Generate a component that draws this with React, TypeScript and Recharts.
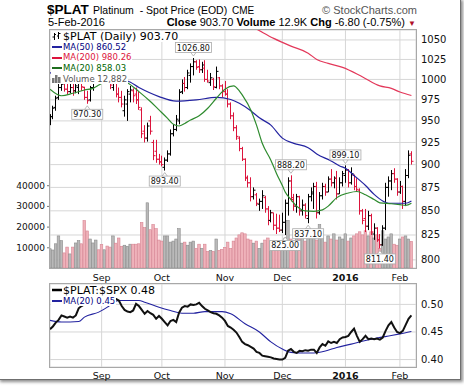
import React from 'react';
import { ComposedChart, Bar, Line, XAxis, YAxis, CartesianGrid, ReferenceDot } from 'recharts';

const FONT = '"DejaVu Sans", Verdana, sans-serif';
const ARIAL = '"Liberation Sans", Arial, sans-serif';

// month labels and the trading-day index where each month starts
const monthLabels = ['Sep', 'Oct', 'Nov', 'Dec', '2016', 'Feb'];
const monthStarts = [18, 39, 61, 81, 103, 122];

const priceTicks = [800, 825, 850, 875, 900, 925, 950, 975, 1000, 1025, 1050];
const volumeTicks = [10000, 20000, 30000, 40000];
const ratioTicks = [0.4, 0.45, 0.5];

// daily bars, early Aug 2015 .. 5 Feb 2016 (one line per month)
const open = [
  948, 955, 966, 978, 990, 996, 988, 985, 990, 986, 990, 995, 990, 978, 975, 990, 998, 1008,
  1006, 1000, 1010, 1003, 990, 996, 982, 978, 962, 970, 982, 986, 982, 975, 963, 938, 930, 950, 925, 915, 906,
  903, 897, 905, 912, 935, 940, 950, 985, 995, 990, 1005, 1016, 1022, 1016, 1012, 1014, 1000, 996, 1000, 990, 1002, 992,
  985, 982, 970, 956, 942, 930, 918, 906, 886, 880, 865, 867, 857, 860, 864, 852, 840, 848, 835, 832,
  830, 838, 858, 882, 862, 855, 865, 850, 856, 842, 865, 868, 876, 848, 866, 876, 870, 884, 880, 885, 868, 880,
  888, 894, 880, 888, 876, 872, 850, 842, 834, 845, 826, 832, 820, 815, 832, 875, 882, 890, 884,
  870, 876, 860, 888, 912,
];
const high = [
  958, 968, 980, 996, 1003, 999, 996, 997, 995, 997, 999, 999, 991, 986, 992, 1001, 1012, 1018,
  1012, 1018, 1014, 1006, 1002, 998, 990, 986, 980, 988, 992, 989, 990, 985, 966, 945, 948, 956, 928, 928, 912,
  910, 908, 916, 940, 946, 957, 988, 1000, 1003, 1012, 1020, 1026.8, 1024, 1025, 1022, 1024, 1012, 1008, 1002, 1016, 1003, 994,
  998, 988, 972, 960, 945, 932, 920, 907, 888, 886, 875, 869, 863, 872, 866, 855, 851, 848, 847, 846,
  848, 862, 886, 888.2, 868, 868, 866, 862, 858, 868, 875, 880, 881, 870, 880, 879, 887, 895, 887, 893, 886, 893,
  899.1, 895, 897, 889, 885, 874, 852, 852, 850, 847, 837, 833, 826, 835, 880, 887, 894, 896, 885,
  882, 877, 895, 916, 915,
];
const low = [
  945, 952, 962, 975, 986, 985, 982, 983, 980, 983, 982, 986, 975, 970.3, 973, 986, 995, 1000,
  996, 998, 998, 988, 986, 978, 972, 966, 955, 950, 972, 972, 970, 963, 930, 925, 926, 934, 905, 902, 900,
  898, 893.4, 903, 910, 932, 938, 946, 982, 985, 988, 996, 1005, 1012, 1008, 1008, 997, 996, 992, 987, 989, 988, 978,
  980, 966, 952, 938, 928, 915, 904, 882, 875, 860, 862, 855, 850, 852, 848, 835, 838, 830, 826, 828,
  827, 825, 845, 860, 850, 848, 845, 845, 842, 837.1, 860, 852, 842, 846, 862, 866, 870, 876, 874, 862, 868, 876,
  880, 875, 878, 872, 870, 846, 836, 828, 830, 825, 820, 818, 811.4, 814, 830, 865, 872, 880, 866,
  868, 852, 855, 885, 900,
];
const close = [
  955, 965, 977, 990, 994, 988, 985, 990, 986, 992, 995, 991, 978, 974, 990, 998, 1008, 1004,
  1000, 1010, 1004, 993, 998, 982, 978, 970, 975, 985, 987, 980, 975, 966, 935, 930, 944, 938, 910, 906, 903,
  900, 905, 912, 935, 940, 952, 984, 995, 990, 1008, 1016, 1022, 1015, 1012, 1018, 1000, 998, 1002, 991, 1010, 992, 985,
  982, 970, 956, 942, 932, 918, 906, 885, 880, 865, 872, 858, 860, 866, 852, 840, 848, 835, 832, 830,
  838, 858, 882, 864, 855, 865, 850, 856, 845, 865, 870, 876, 848, 866, 876, 870, 884, 880, 885, 868, 880, 890,
  894, 880, 890, 876, 873, 850, 840, 834, 845, 828, 832, 820, 815, 832, 875, 882, 890, 884, 870,
  876, 860, 888, 910.5, 903.7,
];
const volume = [
  9300, 8700, 11700, 15500, 13200, 7300, 10100, 6800, 10100, 12100, 13200, 11700, 22900, 17900, 14000, 12100, 13500, 8800,
  11300, 8800, 10600, 10100, 15500, 12000, 14500, 10500, 11000, 10500, 11500, 11500, 11500, 11700, 22000, 19500, 31500, 18500, 21000, 19000, 13500,
  13000, 15500, 15500, 12500, 13000, 14000, 19000, 12000, 12500, 11000, 12500, 13000, 9500, 11500, 9500, 11500, 8000, 8500, 8000, 14000, 8500, 9000,
  10000, 12500, 9500, 13000, 14500, 16000, 17000, 16500, 14000, 13500, 12000, 13000, 9500, 12000, 13500, 14500, 13000, 10000, 12500, 11000,
  12000, 14500, 23000, 14000, 12000, 15500, 14000, 15000, 13000, 16000, 15500, 17000, 13500, 21000, 14500, 12500, 15500, 14000, 16500, 13500, 15000, 14000,
  16500, 13000, 14500, 15500, 16500, 17500, 16000, 18000, 15500, 17500, 14500, 16000, 9500, 18000, 14000, 15000, 16500, 11500, 11000,
  14000, 15000, 15500, 14000, 12882,
];
// $PLAT:$SPX ratio
const ratio = [
  0.455, 0.46, 0.467, 0.472, 0.48, 0.478, 0.476, 0.478, 0.476, 0.48, 0.493, 0.497, 0.5, 0.503, 0.506, 0.51, 0.514, 0.512,
  0.515, 0.52, 0.518, 0.515, 0.512, 0.51, 0.507, 0.497, 0.49, 0.487, 0.486, 0.489, 0.501, 0.497, 0.49, 0.483, 0.488, 0.484, 0.481, 0.474, 0.479,
  0.474, 0.468, 0.462, 0.47, 0.472, 0.468, 0.485, 0.494, 0.497, 0.496, 0.5, 0.499, 0.5, 0.503, 0.497, 0.492, 0.489, 0.486, 0.484, 0.483, 0.48, 0.476,
  0.47, 0.461, 0.458, 0.454, 0.449, 0.441, 0.432, 0.428, 0.426, 0.423, 0.42, 0.414, 0.412, 0.407, 0.406, 0.405, 0.404, 0.402, 0.401, 0.4,
  0.4, 0.403, 0.416, 0.419, 0.414, 0.412, 0.416, 0.415, 0.417, 0.416, 0.418, 0.418, 0.412, 0.422, 0.428, 0.425, 0.433, 0.43, 0.432, 0.43, 0.437, 0.44,
  0.441, 0.443, 0.45, 0.456, 0.443, 0.432, 0.437, 0.443, 0.437, 0.438, 0.437, 0.438, 0.436, 0.44, 0.452, 0.462, 0.468, 0.458, 0.45,
  0.448, 0.452, 0.463, 0.474, 0.48,
];

// moving averages: [day index, value]
const ma20: [number, number][] = [
  [0, 988], [4, 980], [8, 983], [12, 987], [15, 989], [17, 993], [20, 999], [24, 1000], [27, 996], [31, 985],
  [35, 973], [38, 963], [41, 953], [43, 946], [45, 944], [47, 947], [49, 951], [52, 956], [55, 965], [58, 977],
  [61, 988], [64, 992], [66, 986], [67, 981], [70, 963], [72, 945], [74, 924], [77, 905], [79, 890], [81, 877],
  [82, 870], [84, 862], [86, 855], [89, 850], [92, 849.5], [95, 851], [97, 855], [100, 864], [104, 869],
  [107, 870.6], [110, 867], [113, 862], [115, 858.5], [119, 857.5], [122, 856.5], [124, 855.7], [126, 858.03],
];
const ma50: [number, number][] = [
  [0, 1008], [10, 1005], [20, 1001], [27, 998], [31, 990], [38, 979], [44, 973.5], [51, 975], [58, 978],
  [63, 975.5], [66, 971], [70, 962], [73, 953.6], [77, 945], [81, 930], [85, 924], [90, 919], [93, 912],
  [98, 904], [101, 898.5], [103, 896], [106, 888], [110, 877], [113, 867.5], [116, 860.5], [118, 858],
  [124, 858], [126, 860.52],
];
const ma200: [number, number][] = [
  [0, 1150], [40, 1105], [60, 1082], [70, 1068], [78, 1052], [84, 1042], [90, 1033], [93, 1025], [97, 1020],
  [102, 1015], [109, 1003], [115, 992], [119, 989], [122, 984.5], [126, 980.26],
];
const ratioMa20: [number, number][] = [
  [0, 0.471], [4, 0.468], [10, 0.469], [12, 0.477], [17, 0.486], [20, 0.495], [22, 0.503], [24, 0.507],
  [31, 0.507], [33, 0.504], [38, 0.495], [42, 0.489], [46, 0.484], [50, 0.484], [54, 0.487], [60, 0.487],
  [63, 0.483], [68, 0.465], [73, 0.45], [77, 0.432], [81, 0.419], [84, 0.413], [88, 0.412], [92, 0.412],
  [96, 0.4155], [100, 0.422], [105, 0.428], [110, 0.4345], [114, 0.439], [119, 0.4436], [122, 0.4466], [126, 0.451],
];

// labelled highs and lows
const tags: { i: number; kind: 'high' | 'low' }[] = [
  { i: 13, kind: 'low' }, { i: 50, kind: 'high' }, { i: 40, kind: 'low' }, { i: 84, kind: 'high' },
  { i: 82, kind: 'low' }, { i: 90, kind: 'low' }, { i: 103, kind: 'high' }, { i: 115, kind: 'low' },
];

const RED = '#dc143c';
const MA50_C = '#2323a0';
const MA20_C = '#2e8b2e';
const MA200_C = '#e3385a';
const GRID = '#d6d6d6';

const rows: any[] = close.map((c, i) => ({
  i,
  open: open[i],
  high: high[i],
  low: low[i],
  close: c,
  range: [low[i], high[i]],
  up: i === 0 || c >= close[i - 1],
  volume: volume[i],
  ratio: ratio[i],
}));
ma20.forEach(([i, v]) => (rows[i].ma20 = v));
ma50.forEach(([i, v]) => (rows[i].ma50 = v));
ma200.forEach(([i, v]) => (rows[i].ma200 = v));
ratioMa20.forEach(([i, v]) => (rows[i].ratioMa = v));

const last = close.length - 1;
const chg = close[last] - close[last - 1];
const chgPct = (chg / close[last - 1]) * 100;
const lastOf = (a: [number, number][]) => a[a.length - 1][1];

const OhlcShape = (p: any) => {
  const { x, width, payload } = p;
  let { y, height } = p;
  if (height < 0) { y += height; height = -height; }
  const cx = Math.round(x + width / 2) + 0.5;
  const lh = Math.log(payload.high);
  const span = lh - Math.log(payload.low) || 1;
  const oy = y + (height * (lh - Math.log(payload.open))) / span;
  const cy = y + (height * (lh - Math.log(payload.close))) / span;
  return (
    <g stroke={payload.up ? '#000' : RED} strokeWidth={1}>
      <line x1={cx} x2={cx} y1={y} y2={y + height} />
      <line x1={cx - 2} x2={cx} y1={oy} y2={oy} />
      <line x1={cx} x2={cx + 2} y1={cy} y2={cy} />
    </g>
  );
};

const VolShape = (p: any) => {
  const up = p.payload.up;
  return (
    <rect x={p.x} y={p.y} width={p.width} height={p.height}
      fill={up ? '#b9b9b9' : '#efb2ba'} stroke={up ? '#8c8c8c' : '#d78593'} strokeWidth={0.6} />
  );
};

const MonthTick = (p: any) => {
  const label = monthLabels[monthStarts.indexOf(p.payload.value)];
  return (
    <text x={p.x} y={p.y + (p.dy0 ?? 12)} textAnchor="middle" fontSize={9.5} fontFamily={FONT}
      fontWeight={label === '2016' ? 'bold' : 'normal'} fill="#111">{label}</text>
  );
};

const RightTick = (p: any) => (
  <text x={p.x + 5} y={p.y + 3.5} fontSize={p.fs ?? 10} fontFamily={FONT} fill="#111">
    {p.fmt ? p.fmt(p.payload.value) : p.payload.value}
  </text>
);

const VolTick = (p: any) => (
  <g>
    <line x1={p.x - 3} x2={p.x} y1={p.y + 0.5} y2={p.y + 0.5} stroke="#777" />
    <text x={p.x - 5} y={p.y + 3.5} textAnchor="end" fontSize={9} fontFamily={FONT} fill="#111">{p.payload.value}</text>
  </g>
);

const PriceTag = ({ cx, cy, text, below }: any) => {
  const w = text.replace('.', '').length * 5.09 + 2.54 + 3;
  const top = below ? cy + 5.5 : cy - 15.5;
  const tip = below ? cy + 2 : cy - 2;
  const base = below ? cy + 6 : cy - 6;
  return (
    <g>
      <polygon points={`${cx - 3},${base} ${cx},${tip} ${cx + 3},${base}`} fill="#fff" stroke="#aaa" strokeWidth={0.8} />
      <rect x={cx - w / 2} y={top} width={w} height={10} fill="#fff" stroke="#aaa" strokeWidth={0.8} />
      <text x={cx} y={top + 8} textAnchor="middle" fontSize={8} fontFamily={FONT} fill="#111">{text}</text>
    </g>
  );
};

const LegendRow = ({ top, size, lh, color, icon, text }: any) => (
  <div style={{
    position: 'absolute', left: 50.5, top, height: lh, lineHeight: `${lh}px`, fontSize: size,
    fontFamily: FONT, color, background: '#fff', whiteSpace: 'nowrap', display: 'flex',
    alignItems: 'center', paddingLeft: 1.5, paddingRight: 1,
  }}>
    <span style={{ width: 11, display: 'inline-flex' }}>{icon}</span>
    <span>{text}</span>
  </div>
);

const lineIcon = (c: string, h = 2) => (
  <svg width={10} height={6}><rect x={0} y={3 - h / 2} width={10} height={h} fill={c} /></svg>
);

const ohlcIcon = (
  <svg width={9} height={10} stroke="#000" strokeWidth={1}>
    <line x1={2.5} x2={2.5} y1={2} y2={9} /><line x1={0.5} x2={2.5} y1={6} y2={6} /><line x1={2.5} x2={4} y1={3.5} y2={3.5} />
    <line x1={6.5} x2={6.5} y1={1} y2={8} /><line x1={5} x2={6.5} y1={5} y2={5} /><line x1={6.5} x2={8.5} y1={2.5} y2={2.5} />
  </svg>
);

const volIcon = (
  <svg width={10} height={8} fill="#777">
    <rect x={0} y={3} width={2.5} height={5} /><rect x={3} y={0} width={2.5} height={8} /><rect x={6} y={2} width={2.5} height={6} />
  </svg>
);

const Txt = ({ x, right, base, fs, family = ARIAL, bold, color = '#000', children }: any) => (
  <div style={{
    position: 'absolute', left: x, right, top: base - 0.846 * fs, fontSize: fs, lineHeight: 1,
    fontFamily: family, fontWeight: bold ? 'bold' : 'normal', color, whiteSpace: 'nowrap',
  }}>{children}</div>
);

export default function App() {
  return (
    <div style={{ position: 'absolute', left: 0, top: 0, width: 464, height: 387, background: '#fff', overflow: 'hidden' }}>
      <div style={{
        position: 'absolute', left: -2, top: -2, width: 462, height: 381, borderRight: '1px solid #6f6f6f',
        borderBottom: '1px solid #6f6f6f', boxShadow: '2px 2px 3px rgba(0,0,0,0.45)', background: '#fff',
      }} />

      {/* header */}
      <Txt x={47} base={14.5} fs={13.5} bold>$PLAT</Txt>
      <Txt x={93} base={14.3} fs={10.5}>Platinum&nbsp;&nbsp;- Spot Price (EOD)</Txt>
      <Txt x={232} base={14.3} fs={10}>CME</Txt>
      <Txt right={47} base={14.3} fs={11} color="#555">© StockCharts.com</Txt>
      <Txt x={48} base={26.7} fs={11}>5-Feb-2016</Txt>
      <Txt right={48} base={26.7} fs={11}>
        <b>Close</b> {close[last].toFixed(2)} <b>Volume</b> {(volume[last] / 1000).toFixed(1)}K <b>Chg</b>{' '}
        {chg.toFixed(2)} ({chgPct.toFixed(2)}%) <span style={{ color: '#b0102a', fontSize: 8 }}>▼</span>
      </Txt>

      {/* price + volume panel */}
      <div style={{ position: 'absolute', left: 0, top: 0 }}>
        <ComposedChart width={464} height={290} data={rows} margin={{ top: 30, right: 0, bottom: 0, left: 0 }}>
          <CartesianGrid xAxisId="p" yAxisId="price" stroke={GRID} />
          <XAxis xAxisId="p" dataKey="i" type="number" domain={[0, 127.6]} allowDataOverflow ticks={monthStarts}
            interval={0} tickLine={false} axisLine={false} tickSize={0} tickMargin={0} height={22}
            tick={<MonthTick dy0={12.5} />} />
          <XAxis xAxisId="v" dataKey="i" type="number" domain={[0, 127.6]} allowDataOverflow hide />
          <YAxis yAxisId="vol" orientation="left" domain={[0, 115000]} allowDataOverflow ticks={volumeTicks}
            interval={0} width={50} axisLine={false} tickLine={false} tickSize={0} tickMargin={0} tick={<VolTick />} />
          <YAxis yAxisId="price" orientation="right" scale="log" domain={[792, 1063]} allowDataOverflow
            ticks={priceTicks} interval={0} width={48} axisLine={false} tickLine={false} tickSize={0} tickMargin={0}
            tick={<RightTick />} />
          <Bar xAxisId="v" yAxisId="vol" dataKey="volume" barSize={2.87} shape={<VolShape />} isAnimationActive={false} />
          <Bar xAxisId="p" yAxisId="price" dataKey="range" barSize={2} shape={<OhlcShape />} isAnimationActive={false} />
          <Line xAxisId="p" yAxisId="price" dataKey="ma200" stroke={MA200_C} strokeWidth={1.2} dot={false}
            connectNulls type="monotone" isAnimationActive={false} />
          <Line xAxisId="p" yAxisId="price" dataKey="ma50" stroke={MA50_C} strokeWidth={1.2} dot={false}
            connectNulls type="monotone" isAnimationActive={false} />
          <Line xAxisId="p" yAxisId="price" dataKey="ma20" stroke={MA20_C} strokeWidth={1.2} dot={false}
            connectNulls type="monotone" isAnimationActive={false} />
          {tags.map((t) => {
            const v = t.kind === 'high' ? high[t.i] : low[t.i];
            return (
              <ReferenceDot key={t.i} xAxisId="p" yAxisId="price" x={t.i} y={v} r={0}
                shape={(p: any) => <PriceTag cx={p.cx} cy={p.cy} text={v.toFixed(2)} below={t.kind === 'low'} />} />
            );
          })}
        </ComposedChart>
      </div>

      {/* ratio panel */}
      <div style={{ position: 'absolute', left: 0, top: 280 }}>
        <ComposedChart width={464} height={107} data={rows} margin={{ top: 4, right: 0, bottom: 0, left: 50 }}>
          <CartesianGrid xAxisId="r" yAxisId="ratio" stroke={GRID} />
          <XAxis xAxisId="r" dataKey="i" type="number" domain={[0, 127.6]} allowDataOverflow ticks={monthStarts}
            interval={0} tickLine={false} axisLine={false} tickSize={0} tickMargin={0} height={20}
            tick={<MonthTick dy0={11.5} />} />
          <YAxis yAxisId="ratio" orientation="right" domain={[0.3865, 0.537]} allowDataOverflow ticks={ratioTicks}
            interval={0} width={48} axisLine={false} tickLine={false} tickSize={0} tickMargin={0}
            tick={<RightTick fmt={(v: number) => v.toFixed(2)} />} />
          <Line xAxisId="r" yAxisId="ratio" dataKey="ratioMa" stroke={MA50_C} strokeWidth={1.1} dot={false}
            connectNulls type="monotone" isAnimationActive={false} />
          <Line xAxisId="r" yAxisId="ratio" dataKey="ratio" stroke="#111" strokeWidth={2} dot={false}
            type="linear" isAnimationActive={false} />
        </ComposedChart>
      </div>

      {/* panel borders */}
      <div style={{ position: 'absolute', left: 49, top: 29, width: 368, height: 240, border: '1px solid #a8a8a8', boxSizing: 'border-box' }} />
      <div style={{ position: 'absolute', left: 49, top: 283, width: 368, height: 85, border: '1px solid #a8a8a8', boxSizing: 'border-box' }} />

      {/* legends */}
      <LegendRow top={30.5} size={11} lh={11} color="#000" icon={ohlcIcon} text={`$PLAT (Daily) ${close[last].toFixed(2)}`} />
      <LegendRow top={41.5} size={8.5} lh={10.7} color="#000080" icon={lineIcon(MA50_C)} text={`MA(50) ${lastOf(ma50).toFixed(2)}`} />
      <LegendRow top={52.2} size={8.5} lh={10.7} color={RED} icon={lineIcon(RED)} text={`MA(200) ${lastOf(ma200).toFixed(2)}`} />
      <LegendRow top={62.9} size={8.5} lh={10.7} color="#006400" icon={lineIcon('#1e6e1e')} text={`MA(20) ${lastOf(ma20).toFixed(2)}`} />
      <LegendRow top={73.6} size={8.5} lh={10.7} color="#555" icon={volIcon} text={`Volume ${volume[last].toLocaleString('en-US')}`} />

      <LegendRow top={284.5} size={11} lh={11} color="#000" icon={lineIcon('#000', 2.5)} text={`$PLAT:$SPX ${ratio[last].toFixed(2)}`} />
      <LegendRow top={295.5} size={8.5} lh={10.7} color="#000080" icon={lineIcon(MA50_C)} text={`MA(20) ${lastOf(ratioMa20).toFixed(2)}`} />
    </div>
  );
}
